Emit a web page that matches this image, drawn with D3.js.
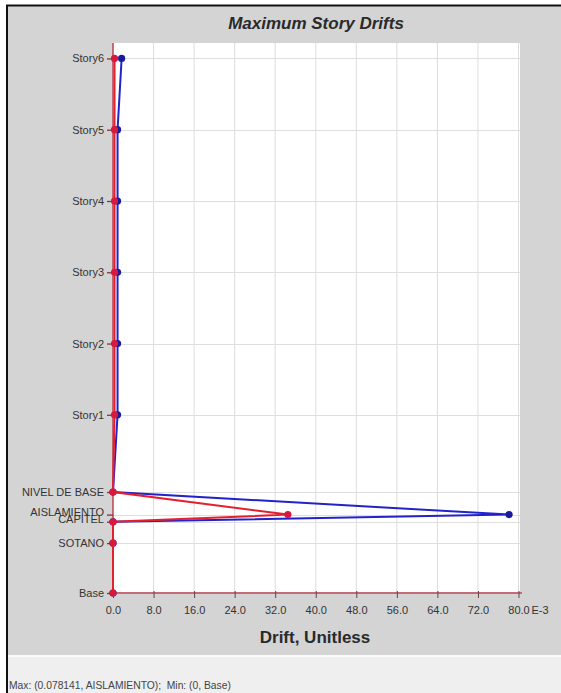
<!DOCTYPE html>
<html>
<head>
<meta charset="utf-8">
<script src="https://cdn.jsdelivr.net/npm/d3@7/dist/d3.min.js"></script>
<style>
  html, body { margin: 0; padding: 0; background: #ffffff; }
  svg { display: block; }
  text { font-family: "Liberation Sans", Arial, sans-serif; }
</style>
</head>
<body>
<svg id="chart" width="561" height="693"></svg>
<script>
// Story levels, bottom to top, with elevations in metres
const levels = ["Base", "SOTANO", "CAPITEL", "AISLAMIENTO", "NIVEL DE BASE",
                "Story1", "Story2", "Story3", "Story4", "Story5", "Story6"];
const elevations = [0, 2.1, 3.0, 3.3, 4.25, 7.5, 10.5, 13.5, 16.5, 19.5, 22.5];

// Maximum drift per level (unitless)
const driftX = [0, 0, 0, 0.078141, 0, 0.0009, 0.0009, 0.0009, 0.0009, 0.0009, 0.0017];
const driftY = [0, 0, 0, 0.0345, 0, 0.0003, 0.0003, 0.0003, 0.0003, 0.0003, 0.0003];

// Drift axis ticks (values in E-3)
const xTicks = [0, 8, 16, 24, 32, 40, 48, 56, 64, 72, 80];

const svg = d3.select("#chart");
const W = 561, H = 693;

// frame
svg.append("rect").attr("x", 7).attr("y", 5).attr("width", W - 7).attr("height", H - 5)
  .attr("fill", "#d4d4d4");
svg.append("rect").attr("x", 7).attr("y", 656).attr("width", W - 7).attr("height", H - 656)
  .attr("fill", "#efefef");
svg.append("line").attr("x1", 7).attr("x2", W).attr("y1", 656).attr("y2", 656)
  .attr("stroke", "#fafafa").attr("stroke-width", 2);
svg.append("line").attr("x1", 6).attr("x2", W).attr("y1", 5.5).attr("y2", 5.5)
  .attr("stroke", "#111").attr("stroke-width", 2);
svg.append("line").attr("x1", 7).attr("x2", 7).attr("y1", 5).attr("y2", H)
  .attr("stroke", "#111").attr("stroke-width", 2);

const plot = { left: 113, right: 520, top: 43, bottom: 593 };

const x = d3.scaleLinear().domain([0, 0.08]).range([113, 518.5]);
const y = d3.scaleLinear().domain([0, 23.15]).range([plot.bottom, plot.top]);

// plot area
svg.append("rect").attr("x", plot.left).attr("y", plot.top)
  .attr("width", plot.right - plot.left).attr("height", plot.bottom - plot.top)
  .attr("fill", "#ffffff");

// grid
const grid = svg.append("g");
grid.selectAll("line.v").data(xTicks.slice(1)).join("line")
  .attr("x1", d => x(d / 1000)).attr("x2", d => x(d / 1000))
  .attr("y1", plot.top).attr("y2", plot.bottom)
  .attr("stroke", "#dcdcdc").attr("stroke-width", 1);
grid.selectAll("line.h").data(elevations.slice(1)).join("line")
  .attr("x1", plot.left).attr("x2", plot.right)
  .attr("y1", d => Math.round(y(d)) + 0.5).attr("y2", d => Math.round(y(d)) + 0.5)
  .attr("stroke", "#dedede").attr("stroke-width", 1);

// bottom axis
const xAxis = d3.axisBottom(x)
  .tickValues(xTicks.map(d => d / 1000))
  .tickFormat(d => (d * 1000).toFixed(1))
  .tickSize(5).tickPadding(8);
const gx = svg.append("g").attr("transform", `translate(0,${plot.bottom})`).call(xAxis);
gx.select(".domain").attr("stroke", "#c46a78").attr("stroke-width", 2)
  .attr("d", `M${plot.left},0H${plot.right + 2}`);
gx.selectAll(".tick line").attr("stroke", "#6a4048").attr("y1", -2);
gx.selectAll(".tick text").attr("fill", "#333").attr("font-size", 11)
  .attr("font-family", "Liberation Sans, Arial, sans-serif");
svg.append("text").attr("x", x(0.08) + 13).attr("y", plot.bottom + 13)
  .attr("dy", "0.71em")
  .attr("font-size", 11).attr("fill", "#333").text("E-3");

// left axis
const yAxis = d3.axisLeft(y)
  .tickValues(elevations)
  .tickFormat((d, i) => levels[i])
  .tickSize(6).tickPadding(3);
const gy = svg.append("g").attr("transform", `translate(${plot.left},0)`).call(yAxis);
gy.select(".domain").attr("stroke", "#c0404e").attr("stroke-width", 1.5)
  .attr("d", `M0,${plot.top}V${plot.bottom}`);
gy.selectAll(".tick line").attr("stroke", "#8a3040").attr("stroke-width", 1.3);
gy.selectAll(".tick text").attr("fill", "#333").attr("font-size", 11)
  .attr("font-family", "Liberation Sans, Arial, sans-serif");
// the two closely spaced levels sit their labels a little higher
gy.selectAll(".tick text")
  .filter((d, i) => levels[i] === "AISLAMIENTO" || levels[i] === "CAPITEL")
  .attr("y", -3);

// series
const pts = (vals) => vals.map((v, i) => [x(v), y(elevations[i])]);
const line = d3.line();

function drawSeries(vals, lineColor, dotColor) {
  svg.append("path").attr("d", line(pts(vals)))
    .attr("fill", "none").attr("stroke", lineColor).attr("stroke-width", 2);
  svg.append("g").selectAll("circle").data(pts(vals)).join("circle")
    .attr("cx", d => d[0]).attr("cy", d => d[1]).attr("r", 3.6)
    .attr("fill", dotColor);
}
drawSeries(driftX, "#2222cc", "#1a1a9c");
drawSeries(driftY, "#e5202e", "#d8183c");

// titles
svg.append("text").attr("x", 316).attr("y", 29).attr("text-anchor", "middle")
  .attr("font-size", 17).attr("font-weight", "bold").attr("font-style", "italic")
  .attr("fill", "#2a2a2a").text("Maximum Story Drifts");
svg.append("text").attr("x", 315).attr("y", 643).attr("text-anchor", "middle")
  .attr("font-size", 17).attr("font-weight", "bold")
  .attr("fill", "#2a2a2a").text("Drift, Unitless");

// status line
const iMax = d3.maxIndex(driftX);
svg.append("text").attr("x", 9).attr("y", 689)
  .attr("font-size", 10.3).attr("fill", "#444")
  .attr("xml:space", "preserve")
  .text(`Max: (${driftX[iMax]}, ${levels[iMax]});  Min: (0, Base)`);
</script>
</body>
</html>
